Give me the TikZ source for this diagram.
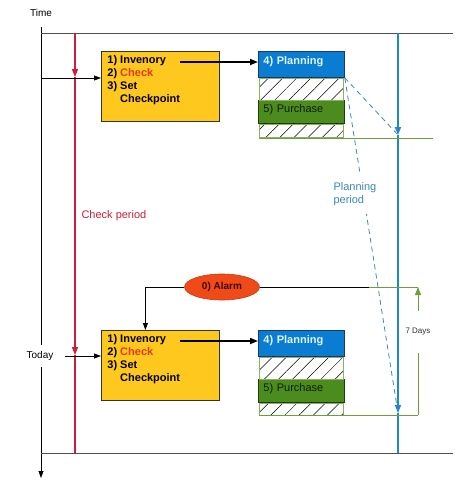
\documentclass[tikz,border=0pt]{standalone}
\usepackage{fontspec}
\setmainfont{Liberation Sans}
\usetikzlibrary{arrows.meta,patterns.meta,shapes.geometric}
\definecolor{boxyellow}{HTML}{FFC81E}
\definecolor{planblue}{HTML}{0A7CD2}
\definecolor{planedge}{HTML}{1A3A6A}
\definecolor{planfont}{HTML}{E0F6FF}
\definecolor{buygreen}{HTML}{4C8C1E}
\definecolor{buyedge}{HTML}{20400A}
\definecolor{buyfont}{HTML}{0E1E04}
\definecolor{hatchgreen}{HTML}{8AB060}
\definecolor{checkred}{HTML}{C8203A}
\definecolor{checkword}{HTML}{E03A1A}
\definecolor{timeblue}{HTML}{1E88C8}
\definecolor{dashblue}{HTML}{3A88B8}
\definecolor{alarmred}{HTML}{F04A18}
\definecolor{alarmfont}{HTML}{3A0A00}
\definecolor{daysgreen}{HTML}{6E9E3C}
\definecolor{rulegrey}{HTML}{505050}
\newcommand\tasktext{\parbox[t][64pt][t]{106pt}{\fontsize{11}{13}\selectfont\bfseries
  \rule{0pt}{9pt}1) Invenory\\2) \textcolor{checkword}{Check}\\3) Set\\\phantom{3) }Checkpoint}}

\tikzset{
  taskbox/.style={draw=black!80, fill=boxyellow, line width=0.8pt, anchor=north west, inner xsep=6pt, inner ysep=3pt},
  planbox/.style={draw=planedge, fill=planblue, line width=0.8pt, anchor=north west, text=planfont,
    font=\fontsize{11}{13}\selectfont\bfseries, text width=76pt, align=left, inner xsep=5pt, inner ysep=2pt,
    text height=11pt, text depth=11pt},
  buybox/.style={draw=buyedge, fill=buygreen, line width=0.8pt, anchor=north west, text=buyfont,
    font=\fontsize{11}{13}\selectfont, text width=76pt, align=left, inner xsep=5pt, inner ysep=2pt,
    text height=10pt, text depth=9pt},
  hatchbox/.style={draw=hatchgreen, line width=0.6pt, pattern={Lines[angle=45,distance=10pt,line width=0.5pt]}, pattern color=black},
  flow/.style={line width=1.6pt, -{Triangle[length=8pt,width=6pt]}},
  thin flow/.style={line width=0.8pt, -{Triangle[length=7pt,width=5pt]}},
  redline/.style={line width=1.5pt, color=checkred},
  blueline/.style={line width=1.5pt, color=timeblue},
  dashline/.style={line width=0.8pt, color=dashblue, dash pattern=on 5pt off 4pt},
  dayline/.style={line width=0.8pt, color=daysgreen}
}

\begin{document}
\begin{tikzpicture}[x=1pt, y=-1pt]
			%%%%% START %%%%%
			\useasboundingbox (0,0) rectangle (457,488);
			
			% time axis and frame
			\node[font=\fontsize{10}{12}\selectfont] (time) at (41,13) {Time};
			\draw[thin flow, line width=0.8pt] (41,27) -- (41,478);
			\draw[line width=0.9pt, color=rulegrey] (41,33) -- (453,33);
			\draw[line width=0.9pt, color=rulegrey] (41,453) -- (453,453);
			\node[fill=white, inner ysep=6pt, font=\fontsize{10}{12}\selectfont] (today) at (40,356) {Today};
			
			% check period
			\coordinate (c1) at (75,77);
			\coordinate (c2) at (75,355);
			\draw[redline, -{Triangle[length=8pt,width=6pt]}] (75,33) -- (c1);
			\draw[redline, -{Triangle[length=8pt,width=6pt]}] (c1) -- (c2);
			\draw[redline] (c2) -- (75,453);
			\node[anchor=west, text=checkred, font=\fontsize{11}{13}\selectfont] (checkper) at (78,216) {Check period};
			
			% planning period
			\coordinate (b1) at (398,135);
			\coordinate (b2) at (398,413);
			\draw[blueline, -{Triangle[length=8pt,width=6pt]}] (398,33) -- (b1);
			\draw[blueline, -{Triangle[length=8pt,width=6pt]}] (b1) -- (b2);
			\draw[blueline] (b2) -- (398,453);
			
			%%%%% first round %%%%%
			\node[taskbox] (inv1) at (101,51) {\tasktext};
			\node[planbox] (plan1) at (258,51) {4) Planning};
			\node[buybox] (purch1) at (258,100) {5) Purchase};
			\draw[hatchbox] ([xshift=1pt]plan1.south west) rectangle ([xshift=-2pt]purch1.north east);
			\draw[hatchbox] ([xshift=1pt]purch1.south west) rectangle ([xshift=-2pt,yshift=-13pt]purch1.south east);
			\draw[dayline] (259,138) -- (433,138);
			
			\coordinate (axis1) at (41,78);
			\draw[thin flow] (axis1) -- (axis1 -| inv1.west);
			\coordinate (inv1out) at (180,62);
			\draw[flow] (inv1out) -- (inv1out -| plan1.west);
			
			\draw[dashline] (plan1.south east) -- (b1);
			\draw[dashline] (plan1.south east) -- (b2);
			\node[anchor=west, fill=white, inner ysep=8pt, text=dashblue, align=left, font=\fontsize{11}{13}\selectfont] (planper) at (330,194) {Planning\\period};
			
			%%%%% second round %%%%%
			\node[taskbox] (inv2) at (101,330) {\tasktext};
			\node[planbox] (plan2) at (258,330) {4) Planning};
			\node[buybox] (purch2) at (258,379) {5) Purchase};
			\draw[hatchbox] ([xshift=1pt]plan2.south west) rectangle ([xshift=-2pt]purch2.north east);
			\draw[hatchbox] ([xshift=1pt]purch2.south west) rectangle ([xshift=-2pt,yshift=-12pt]purch2.south east);
			
			\draw[thin flow] ([xshift=8pt]today.east) -- (today.east -| inv2.west);
			\coordinate (inv2out) at (180,341);
			\draw[flow] (inv2out) -- (inv2out -| plan2.west);
			
			% alarm
			\node[ellipse, fill=alarmred, draw=alarmred!80!black, line width=0.6pt, minimum width=75pt, minimum height=26pt, inner sep=0pt,
				text=alarmfont, font=\fontsize{10}{12}\selectfont\bfseries] (alarm) at (222,287) {0) Alarm};
			\draw[thin flow] (alarm.west) -| ([xshift=-15pt]inv2.north);
			\coordinate (g0) at (369,287);
			\coordinate (g1) at (418,287);
			\coordinate (g2) at (418,415);
			\draw[line width=0.8pt] (alarm.east) -- (g0);
			\draw[dayline] (g0) -- (g1);
			\draw[dayline] (259,415) -- (g2);
			\draw[dayline, -{Triangle[length=8pt,width=6pt]}] (g2) -- (g1) node[pos=0.65, fill=white, inner xsep=1pt, minimum height=42pt, text=black!80, font=\fontsize{8}{10}\selectfont] (days) {7 Days};
			
			%%%%% END %%%%%
		\end{tikzpicture}
\end{document}
